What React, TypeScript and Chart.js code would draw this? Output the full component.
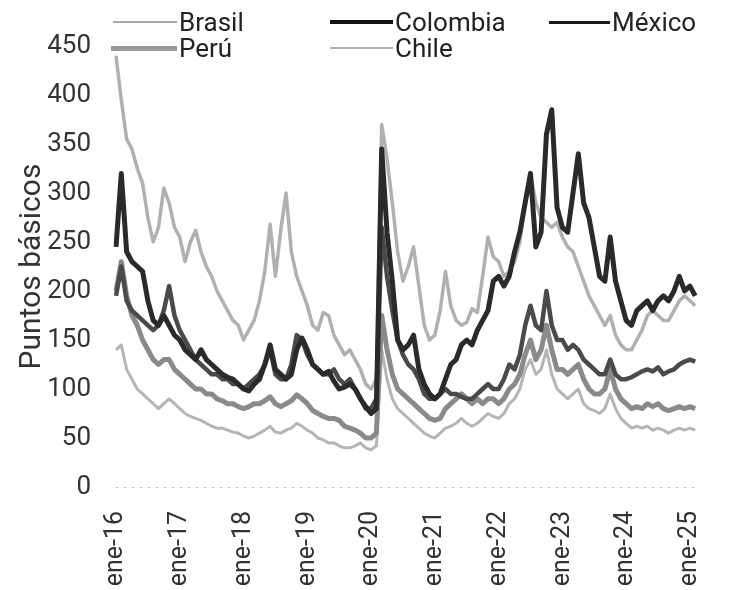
import React, { useEffect, useRef } from 'react';
import { Chart, registerables } from 'chart.js';

Chart.register(...registerables);

const MONTHS = ['ene', 'feb', 'mar', 'abr', 'may', 'jun', 'jul', 'ago', 'sep', 'oct', 'nov', 'dic'];
const YEARS = ['16', '17', '18', '19', '20', '21', '22', '23', '24', '25'];
const LAST_MONTHS_2025 = 2;

const Y_TICKS = [0, 50, 100, 150, 200, 250, 300, 350, 400, 450];

const brasil = [
  440, 395, 355, 345, 325, 310, 275, 250, 265, 305, 290, 265,
  255, 230, 250, 262, 240, 225, 215, 200, 190, 180, 170, 165,
  150, 160, 170, 190, 220, 268, 215, 262, 300, 240, 215, 200,
  185, 165, 160, 178, 175, 155, 145, 135, 140, 130, 120, 105,
  100, 110, 370, 335, 290, 240, 210, 225, 245, 205, 165, 150,
  155, 180, 220, 185, 170, 165, 168, 182, 178, 215, 255, 235,
  230, 215, 220, 230, 250, 290, 320, 290, 275, 270, 265, 270,
  255, 245, 240, 225, 210, 195, 185, 175, 165, 175, 155, 145,
  140, 140, 150, 160, 175, 180, 175, 170, 170, 180, 190, 195,
  190, 185,
];

const colombia = [
  245, 320, 240, 230, 225, 220, 190, 170, 165, 175, 165, 155,
  150, 140, 135, 130, 140, 130, 125, 120, 115, 112, 110, 105,
  100, 98, 105, 110, 125, 145, 120, 115, 110, 115, 140, 152,
  140, 125, 120, 115, 118, 108, 100, 102, 105, 100, 90, 82,
  75, 80, 345, 260, 210, 150, 140, 145, 155, 120, 105, 95,
  90, 95, 110, 125, 130, 145, 150, 145, 160, 170, 180, 210,
  215, 205, 215, 240, 260, 290, 320, 245, 260, 360, 385, 285,
  265, 260, 300, 340, 290, 275, 245, 215, 210, 255, 210, 190,
  170, 165, 180, 185, 190, 180, 190, 195, 190, 200, 215, 200,
  205, 195,
];

const mexico = [
  195, 225, 190, 180, 175, 170, 165, 160, 165, 180, 205, 175,
  160, 150, 140, 130, 125, 120, 115, 115, 110, 110, 105, 105,
  100, 105, 110, 115, 125, 140, 115, 110, 110, 125, 155, 150,
  135, 125, 120, 115, 115, 120, 110, 105, 110, 100, 90, 80,
  80, 90, 265, 215, 180, 150, 135, 125, 120, 110, 95, 90,
  90, 95, 100, 95, 95, 92, 90, 90, 95, 100, 105, 100,
  100, 110, 125, 120, 135, 165, 185, 165, 160, 200, 165, 150,
  150, 140, 145, 140, 130, 125, 120, 115, 115, 130, 115, 110,
  110, 112, 115, 118, 120, 118, 122, 115, 118, 120, 125, 128,
  130, 128,
];

const peru = [
  200, 230, 195, 175, 165, 150, 140, 130, 125, 130, 130, 120,
  115, 110, 105, 100, 100, 95, 95, 90, 88, 85, 85, 82,
  80, 82, 85, 85, 88, 92, 85, 82, 85, 88, 94, 90,
  85, 78, 75, 72, 70, 70, 68, 62, 60, 58, 55, 50,
  50, 55, 175, 140, 115, 100, 95, 90, 85, 80, 75, 70,
  68, 70, 80, 85, 90, 95, 90, 85, 90, 85, 90, 90,
  85, 90, 100, 105, 115, 135, 150, 130, 140, 165, 140, 120,
  120, 115, 120, 125, 110, 100, 95, 95, 100, 120, 100, 90,
  85, 80, 82, 80, 85, 82, 85, 80, 78, 80, 82, 80,
  82, 80,
];

const chile = [
  140, 145, 120, 110, 100, 95, 90, 85, 80, 85, 90, 85,
  80, 75, 72, 70, 68, 65, 62, 60, 60, 58, 56, 55,
  52, 50, 52, 55, 58, 62, 56, 55, 58, 60, 65, 62,
  58, 55, 50, 48, 45, 45, 42, 40, 40, 42, 45, 40,
  38, 42, 140, 110, 90, 80, 75, 70, 65, 60, 55, 52,
  50, 55, 60, 62, 65, 70, 65, 62, 65, 70, 75, 72,
  70, 75, 85, 90, 100, 120, 130, 115, 120, 140, 115, 100,
  95, 90, 95, 100, 85, 80, 78, 75, 80, 95, 80, 70,
  65, 60, 62, 60, 62, 58, 60, 58, 55, 58, 60, 58,
  60, 58,
];

const SERIES_NAMES = ['Brasil', 'Colombia', 'México', 'Perú', 'Chile'];
const SERIES_DATA = [brasil, colombia, mexico, peru, chile];
const SERIES_COLORS = ['#b0b0b0', '#2a2a2a', '#4a4a4a', '#8a8a8a', '#b5b5b5'];
const SERIES_WIDTHS = [3.5, 5, 4.5, 5, 3];
const LEGEND_COLORS = ['#a8a8a8', '#111111', '#1a1a1a', '#9a9a9a', '#b0b0b0'];
const LEGEND_WIDTHS = [2, 4, 3, 5, 2];
const DRAW_ORDER = [3, 1, 2, 4, 5];

const labels: string[] = [];
YEARS.forEach((y, yi) => {
  const n = yi === YEARS.length - 1 ? LAST_MONTHS_2025 : 12;
  for (let m = 0; m < n; m++) labels.push(`${MONTHS[m]}-${y}`);
});

const LEGEND_POS = [
  { lineX: 113, lineW: 64, y: 22 },
  { lineX: 330, lineW: 63, y: 22 },
  { lineX: 549, lineW: 61, y: 22 },
  { lineX: 111, lineW: 66, y: 48 },
  { lineX: 330, lineW: 63, y: 48 },
];

const FONT = 'Roboto, "Liberation Sans", Arial, sans-serif';

export default function App() {
  const ref = useRef<HTMLCanvasElement | null>(null);

  useEffect(() => {
    if (!ref.current) return;
    const chart = new Chart(ref.current, {
      type: 'line',
      data: {
        labels,
        datasets: SERIES_NAMES.map((name, i) => ({
          label: name,
          data: SERIES_DATA[i],
          borderColor: SERIES_COLORS[i],
          backgroundColor: SERIES_COLORS[i],
          borderWidth: SERIES_WIDTHS[i],
          pointRadius: 0,
          tension: 0,
          fill: false,
          borderJoinStyle: 'round' as const,
          order: DRAW_ORDER[i],
        })),
      },
      options: {
        animation: false,
        responsive: false,
        layout: { padding: { top: 46, right: 9, left: 0, bottom: 0 } },
        plugins: { legend: { display: false }, tooltip: { enabled: false } },
        scales: {
          x: {
            type: 'category',
            offset: false,
            grid: { display: false },
            border: { display: false },
            ticks: {
              autoSkip: false,
              maxRotation: 90,
              minRotation: 90,
              padding: 16,
              color: '#333',
              font: { size: 25, family: FONT },
              callback: (_v: any, idx: number) => (labels[idx].startsWith('ene') ? labels[idx] : null),
            },
            afterFit: (s: any) => {
              s.height = 103;
            },
          },
          y: {
            min: 0,
            max: 450,
            afterBuildTicks: (s: any) => {
              s.ticks = Y_TICKS.map((v) => ({ value: v }));
            },
            ticks: {
              padding: 25,
              color: '#333',
              font: { size: 26, family: FONT },
            },
            grid: {
              drawTicks: false,
              lineWidth: 1,
              color: (ctx: any) => (ctx.tick && ctx.tick.value === 0 ? '#b5b5b5' : 'rgba(0,0,0,0)'),
            },
            border: { display: false, dash: [2, 6] },
            title: {
              display: true,
              text: 'Puntos básicos',
              color: '#333',
              font: { size: 30, family: FONT },
              padding: { top: 14, bottom: 0 },
            },
            afterFit: (s: any) => {
              s.width = 116;
            },
          },
        },
      },
    });
    return () => chart.destroy();
  }, []);

  return (
    <div style={{ position: 'fixed', left: 0, top: 0, width: 736, height: 590, background: '#fff', overflow: 'hidden' }}>
      <canvas ref={ref} width={736} height={590} style={{ position: 'absolute', left: 0, top: 0 }} />
      {SERIES_NAMES.map((name, i) => {
        const p = LEGEND_POS[i];
        return (
          <div key={name}>
            <div
              style={{
                position: 'absolute',
                left: p.lineX,
                top: p.y - LEGEND_WIDTHS[i] / 2,
                width: p.lineW,
                height: LEGEND_WIDTHS[i],
                background: LEGEND_COLORS[i],
              }}
            />
            <span
              style={{
                position: 'absolute',
                left: p.lineX + p.lineW + 2,
                top: p.y - 13,
                fontFamily: FONT,
                fontSize: 26,
                lineHeight: '26px',
                color: '#222',
                whiteSpace: 'nowrap',
              }}
            >
              {name}
            </span>
          </div>
        );
      })}
    </div>
  );
}
